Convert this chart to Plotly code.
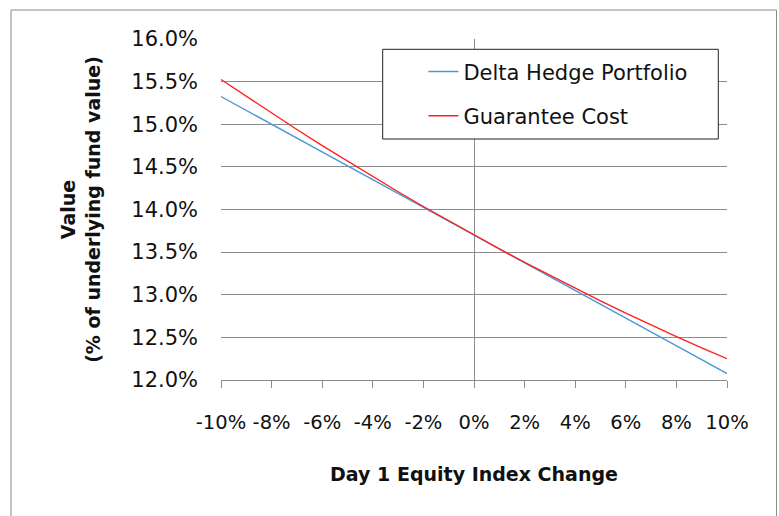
import plotly.graph_objects as go

# Day 1 equity index change (fraction)
equity_change = [-0.10, -0.09, -0.08, -0.07, -0.06, -0.05, -0.04, -0.03, -0.02, -0.01, 0.00,
                 0.01, 0.02, 0.03, 0.04, 0.05, 0.06, 0.07, 0.08, 0.09, 0.10]

# Values as % of underlying fund value (fraction)
delta_hedge = [0.15325, 0.15163, 0.15000, 0.14838, 0.14675, 0.14513, 0.14350, 0.14188, 0.14025, 0.13863, 0.13700,
               0.13538, 0.13375, 0.13213, 0.13050, 0.12888, 0.12725, 0.12563, 0.12400, 0.12238, 0.12075]
guarantee_cost = [0.15525, 0.15326, 0.15130, 0.14938, 0.14750, 0.14566, 0.14385, 0.14208, 0.14035, 0.13866, 0.13700,
                  0.13538, 0.13380, 0.13226, 0.13075, 0.12928, 0.12785, 0.12646, 0.12510, 0.12378, 0.12250]

x_tick_vals = [-0.10, -0.08, -0.06, -0.04, -0.02, 0.00, 0.02, 0.04, 0.06, 0.08, 0.10]
x_tick_text = ["-10%", "-8%", "-6%", "-4%", "-2%", "0%", "2%", "4%", "6%", "8%", "10%"]

series_names = ["Delta Hedge Portfolio", "Guarantee Cost"]
x_title = "Day 1 Equity Index Change"
y_title = "Value<br>(% of underlying fund value)"

FONT = "DejaVu Sans"
GRID = "#8c8c8c"

fig = go.Figure()
fig.add_trace(go.Scatter(x=equity_change, y=delta_hedge, mode="lines", name=series_names[0],
                         line=dict(color="#4a98d8", width=1.4), legendgroup="a"))
fig.add_trace(go.Scatter(x=equity_change, y=guarantee_cost, mode="lines", name=series_names[1],
                         line=dict(color="#ff2020", width=1.4), legendgroup="b"))

fig.update_layout(
    width=779, height=516,
    margin=dict(l=221, r=52, t=39, b=136, autoexpand=False),
    paper_bgcolor="white", plot_bgcolor="white",
    font=dict(family=FONT, color="#111111", size=20),
    showlegend=True,
    legend=dict(x=0.40, xanchor="left", y=0.964, yanchor="top",
                bgcolor="rgba(0,0,0,0)", borderwidth=0,
                font=dict(family=FONT, size=21, color="#111111"),
                traceorder="grouped", tracegroupgap=14),
    xaxis=dict(range=[-0.10, 0.10], tickmode="array", tickvals=x_tick_vals, ticktext=x_tick_text,
               tickangle=0, automargin=False,
               showgrid=False, showline=True, linecolor=GRID, linewidth=1,
               ticks="outside", ticklen=7, tickcolor=GRID,
               zeroline=True, zerolinecolor=GRID, zerolinewidth=1,
               ticklabelstandoff=18,
               tickfont=dict(family=FONT, size=19.5, color="#111111"),
               title=dict(text=x_title, standoff=34,
                          font=dict(family=FONT, size=19, color="#111111", weight="bold"))),
    yaxis=dict(range=[0.12, 0.16], dtick=0.005, tick0=0.12, tickformat=".1%", automargin=False,
               showgrid=True, gridcolor=GRID, gridwidth=1,
               showline=False, zeroline=False, ticks="",
               ticklabelstandoff=22,
               tickfont=dict(family=FONT, size=21, color="#111111"),
               title=dict(text=y_title, standoff=25,
                          font=dict(family=FONT, size=19, color="#111111", weight="bold"))),
    shapes=[
        # outer chart border
        dict(type="rect", xref="paper", yref="paper",
             x0=(11 - 221) / 506, x1=(776.5 - 221) / 506,
             y0=(380 - 530) / 341, y1=(380 - 10) / 341,
             line=dict(color="#8a8a8a", width=1), fillcolor="rgba(0,0,0,0)", layer="below"),
        # legend box
        dict(type="rect", xref="paper", yref="paper",
             x0=(382.7 - 221) / 506, x1=(718.3 - 221) / 506,
             y0=(380 - 139) / 341, y1=(380 - 49.3) / 341,
             line=dict(color="#222222", width=1), fillcolor="white", layer="above"),
    ],
)

fig.write_html("out.html", config={"displayModeBar": False},
               post_script="document.body.style.margin='0px';")
